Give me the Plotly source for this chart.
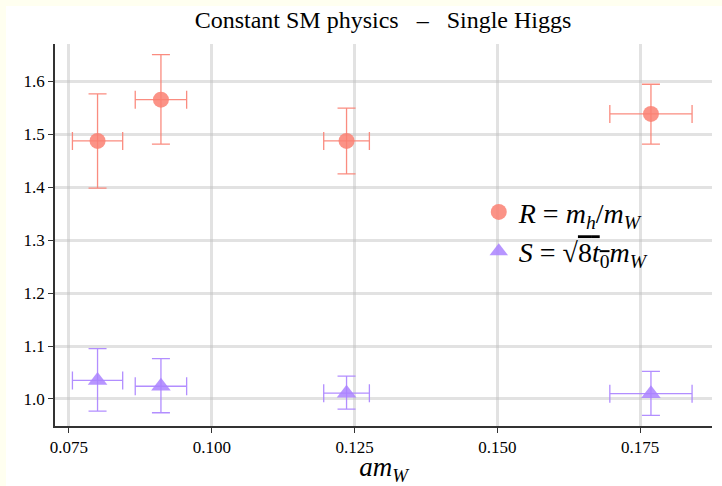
import plotly.graph_objects as go

# Data
am_w = [0.0800, 0.0911, 0.1236, 0.1769]
am_w_err = [0.0044, 0.0045, 0.0040, 0.0072]

R_vals = [1.487, 1.565, 1.487, 1.538]
R_err_plus = [0.089, 0.085, 0.062, 0.056]
R_err_minus = [0.089, 0.084, 0.062, 0.057]

S_vals = [1.035, 1.024, 1.011, 1.010]
S_err_plus = [0.060, 0.052, 0.032, 0.042]
S_err_minus = [0.058, 0.050, 0.030, 0.041]

x_ticks = [0.075, 0.100, 0.125, 0.150, 0.175]
y_ticks = [1.0, 1.1, 1.2, 1.3, 1.4, 1.5, 1.6]

R_color = "rgba(250,128,114,0.85)"
R_line = "rgba(250,128,114,0.9)"
S_color = "rgba(170,130,255,0.85)"
S_line = "rgba(170,130,255,0.9)"

fig = go.Figure()

fig.add_trace(go.Scatter(
    x=am_w, y=R_vals, mode="markers",
    marker=dict(symbol="circle", size=16, color=R_color),
    error_y=dict(type="data", symmetric=False, array=R_err_plus, arrayminus=R_err_minus,
                 color=R_line, thickness=1.3, width=9),
    error_x=dict(type="data", array=am_w_err, color=R_line, thickness=1.3, width=9),
    name="<i>R</i> = <i>m</i><sub><i>h</i></sub>/<i>m</i><sub><i>W</i></sub>",
))
fig.add_trace(go.Scatter(
    x=am_w, y=S_vals, mode="markers",
    marker=dict(symbol="triangle-up", size=17, color=S_color),
    error_y=dict(type="data", symmetric=False, array=S_err_plus, arrayminus=S_err_minus,
                 color=S_line, thickness=1.3, width=9),
    error_x=dict(type="data", array=am_w_err, color=S_line, thickness=1.3, width=9),
    name="<i>S</i> = √<span style='text-decoration:overline'>8<i>t</i><sub>0</sub></span><i>m</i><sub><i>W</i></sub>",
))

serif = "Liberation Serif, DejaVu Serif, serif"

fig.update_layout(
    width=722, height=486,
    margin=dict(l=55, r=10, t=44, b=60),
    paper_bgcolor="#fffff0",
    plot_bgcolor="white",
    font=dict(family=serif, color="black", size=16),
    title=dict(text="Constant SM physics \u00a0\u00a0–\u00a0\u00a0 Single Higgs", x=0.5305, xanchor="center",
               y=0.96, yanchor="middle", font=dict(size=24, family=serif)),
    legend=dict(x=0.645, y=0.625, xanchor="left", yanchor="top",
                bgcolor="rgba(0,0,0,0)", font=dict(size=28, family=serif),
                itemsizing="trace", tracegroupgap=0),
    showlegend=True,
    shapes=[dict(type="rect", xref="paper", yref="paper",
                 x0=(6 - 55) / 657, x1=(730 - 55) / 657,
                 y0=(426 - 490) / 382, y1=(426 - 6) / 382,
                 fillcolor="white", line=dict(width=0), layer="below")],
)

fig.update_xaxes(
    range=[0.07255, 0.18759], tickvals=x_ticks, tickformat=".3f",
    showgrid=True, gridcolor="rgba(190,190,190,0.45)", gridwidth=3,
    showline=True, linecolor="#333", linewidth=1.5,
    ticks="outside", ticklen=5, tickcolor="#333", zeroline=False,
    tickfont=dict(size=17, family=serif),
    title=dict(text="<i>am</i><sub><i>W</i></sub>", font=dict(size=27, family=serif), standoff=0),
)
fig.update_yaxes(
    range=[0.949, 1.67], tickvals=y_ticks, tickformat=".1f",
    showgrid=True, gridcolor="rgba(190,190,190,0.45)", gridwidth=3,
    showline=True, linecolor="#333", linewidth=1.5,
    ticks="outside", ticklen=5, tickcolor="#333", zeroline=False,
    tickfont=dict(size=17, family=serif),
)

fig.write_html("out.html")
